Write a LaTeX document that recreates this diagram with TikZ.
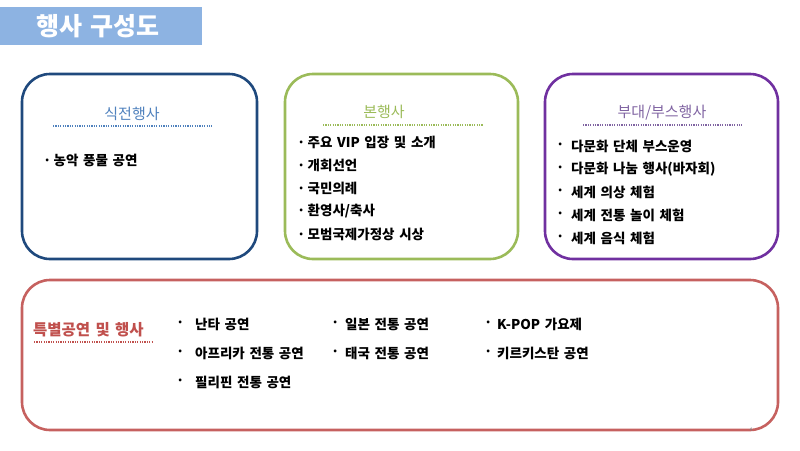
\documentclass[tikz,border=0pt]{standalone}
\usepackage{fontspec}
\setmainfont[WordSpace=1.5]{Noto Sans CJK KR}
\usetikzlibrary{positioning}

\definecolor{bannerblue}{HTML}{8DB3E2}
\definecolor{navyline}{HTML}{1F497D}
\definecolor{steeltxt}{HTML}{4F81BD}
\definecolor{greenline}{HTML}{9BBB59}
\definecolor{purpleline}{HTML}{7030A0}
\definecolor{purpletxt}{HTML}{8064A2}
\definecolor{redline}{HTML}{C0504D}

\tikzset{
  panel/.style={line width=2.6pt, rounded corners=28pt},
  paneltitle/.style={inner sep=0pt, font=\fontsize{15}{17}\selectfont},
  titlerule/.style={line width=1.6pt, dash pattern=on 1.2pt off 1.2pt},
  item/.style={anchor=west, inner sep=0pt, font=\fontsize{13.5}{15}\selectfont\bfseries},
  dot/.style={anchor=west, inner sep=0pt, font=\fontsize{13.5}{15}\selectfont\bfseries},
}

\begin{document}
\begin{tikzpicture}[x=1pt, y=-1pt]
\useasboundingbox (0,0) rectangle (800,450);

% banner
\fill[bannerblue] (0,7) rectangle (202,45);
\node[text=white, font=\fontsize{25}{28}\selectfont\bfseries] (banner) at (98,26) {행사 구성도};

% panels
\draw[panel, navyline] (22,74) rectangle (257,259);
\draw[panel, greenline] (285,74) rectangle (518,259);
\draw[panel, purpleline] (545,74) rectangle (778,259);
\draw[panel, redline!90] (22,280) rectangle (778,430);

% panel titles
\node[paneltitle, text=steeltxt] (pre) at (132,114) {식전행사};
\draw[titlerule, steeltxt] (53,126) -- (212,126);
\node[paneltitle, text=greenline] (main) at (384,112) {본행사};
\draw[titlerule, greenline] (323,125) -- (483,125);
\node[paneltitle, text=purpletxt] (side) at (662,113) {부대/부스행사};
\draw[titlerule, purpletxt] (583,125) -- (742,125);
\node[paneltitle, text=redline, anchor=west, font=\fontsize{15.5}{17}\selectfont\bfseries] (special) at (33,330) {특별공연 및 행사};
\draw[titlerule, redline] (34,342) -- (153,342);

% pre-event
\node[item] (pre1) at (43,160) {·\,농악 풍물 공연};

% main event
\foreach \t [count=\i] in {주요 VIP 입장 및 소개, 개회선언, 국민의례, 환영사/축사, 모범국제가정상 시상}
  \node[item] (main\i) at (297,{142+23*(\i-1)}) {·\,\t};

% side events
\foreach \t [count=\i] in {다문화 단체 부스운영, 다문화 나눔 행사(바자회), 세계 의상 체험, 세계 전통 놀이 체험, 세계 음식 체험}{
  \node[dot] (sdot\i) at (556,{146+23*(\i-1)}) {·};
  \node[item] (side\i) at (571,{146+23*(\i-1)}) {\t};
}

% special performances
\foreach \t [count=\i] in {난타 공연, 아프리카 전통 공연, 필리핀 전통 공연}{
  \node[dot] (adot\i) at (176,{324+29*(\i-1)}) {·};
  \node[item] (spa\i) at (195,{324+29*(\i-1)}) {\t};
}
\foreach \t [count=\i] in {일본 전통 공연, 태국 전통 공연}{
  \node[dot] (bdot\i) at (331,{324+29*(\i-1)}) {·};
  \node[item] (spb\i) at (345,{324+29*(\i-1)}) {\t};
}
\foreach \t [count=\i] in {K-POP 가요제, 키르키스탄 공연}{
  \node[dot] (cdot\i) at (484,{324+29*(\i-1)}) {·};
  \node[item] (spc\i) at (497,{324+29*(\i-1)}) {\t};
}

% page number
\node[text=gray, font=\fontsize{5}{6}\selectfont, inner sep=0pt] (page) at (751,430) {4};
\end{tikzpicture}
\end{document}
